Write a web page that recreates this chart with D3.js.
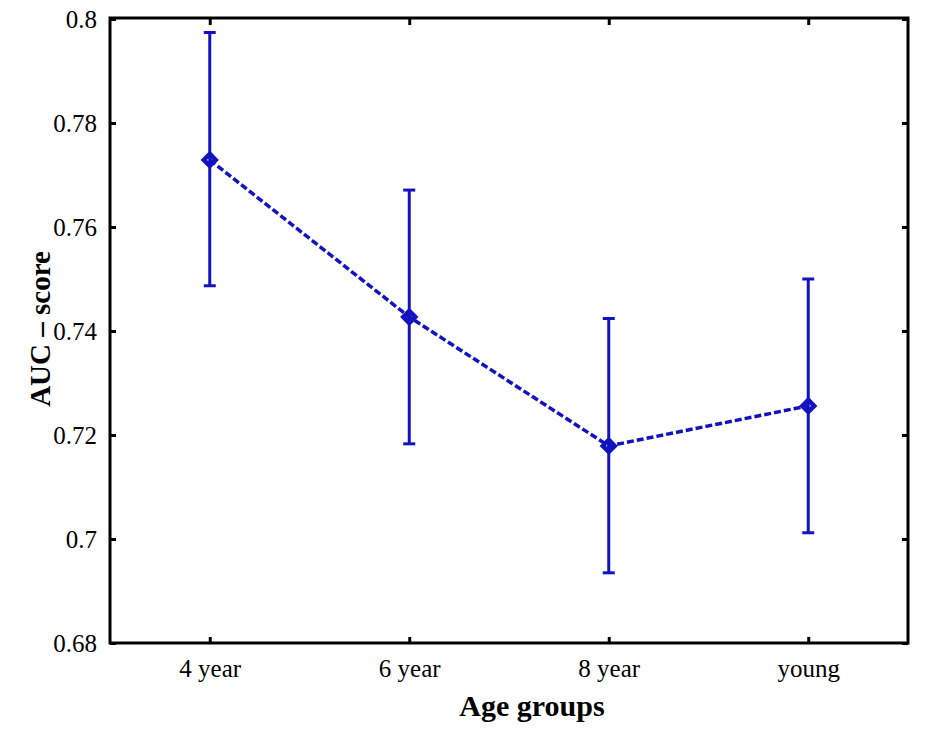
<!DOCTYPE html>
<html>
<head>
<meta charset="utf-8">
<script src="https://cdn.jsdelivr.net/npm/d3@7"></script>
<style>
  body{margin:0;background:#fff;}
  svg text{font-family:"Liberation Serif","Times New Roman",serif;fill:#000;}
</style>
</head>
<body>
<div id="chart"></div>
<script>
const groups = ['4 year','6 year','8 year','young'];
const means  = [0.7729, 0.7427, 0.7179, 0.7256];
const upper  = [0.7974, 0.7671, 0.7424, 0.7500];
const lower  = [0.7487, 0.7183, 0.6935, 0.7012];
const yTicks = [0.68, 0.7, 0.72, 0.74, 0.76, 0.78, 0.8];

const W=925, H=730;
const L=110, R=908, T=19, B=643;
const blue='#1212c0';

const svg=d3.select('#chart').append('svg').attr('width',W).attr('height',H);

const x=d3.scaleLinear().domain([0.5,4.5]).range([L,R]);
const y=d3.scaleLinear().domain([0.68,0.8]).range([B,T]);

const data=groups.map((g,i)=>({g,i:i+1,m:means[i],hi:upper[i],lo:lower[i]}));

// axes, ticks pointing inward
const fmt=d=>d3.format('~g')(d);
svg.append('g').attr('transform',`translate(${L},0)`)
  .call(d3.axisLeft(y).tickValues(yTicks).tickSize(-6).tickPadding(13).tickFormat(fmt));
svg.append('g').attr('transform',`translate(${R},0)`)
  .call(d3.axisRight(y).tickValues(yTicks).tickSize(-6).tickFormat(''));
svg.append('g').attr('transform',`translate(0,${B})`)
  .call(d3.axisBottom(x).tickValues([1,2,3,4]).tickSize(-6).tickPadding(16).tickFormat(d=>groups[d-1]));
svg.append('g').attr('transform',`translate(0,${T})`)
  .call(d3.axisTop(x).tickValues([1,2,3,4]).tickSize(-6).tickFormat(''));

svg.selectAll('.domain').remove();
svg.selectAll('.tick line').attr('stroke','#000').attr('stroke-width',3);
svg.selectAll('.tick text').attr('font-size',25).attr('font-family','Liberation Serif');

svg.append('rect').attr('x',L).attr('y',T-1).attr('width',R-L).attr('height',B-T+1)
  .attr('fill','none').attr('stroke','#000').attr('stroke-width',3);

// dashed line through means
svg.append('path').datum(data)
  .attr('d',d3.line().x(d=>x(d.i)).y(d=>y(d.m)))
  .attr('fill','none').attr('stroke',blue).attr('stroke-width',3.5)
  .attr('stroke-dasharray','7 3');

// error bars
const eb=svg.append('g').selectAll('g').data(data).join('g').attr('stroke',blue).attr('stroke-width',3);
eb.append('line').attr('x1',d=>x(d.i)).attr('x2',d=>x(d.i)).attr('y1',d=>y(d.hi)).attr('y2',d=>y(d.lo));
eb.append('line').attr('x1',d=>x(d.i)-6).attr('x2',d=>x(d.i)+6).attr('y1',d=>y(d.hi)).attr('y2',d=>y(d.hi));
eb.append('line').attr('x1',d=>x(d.i)-6).attr('x2',d=>x(d.i)+6).attr('y1',d=>y(d.lo)).attr('y2',d=>y(d.lo));

// diamond markers
svg.append('g').selectAll('path').data(data).join('path')
  .attr('transform',d=>`translate(${x(d.i)},${y(d.m)})`)
  .attr('d','M0,-6L6,0L0,6L-6,0Z')
  .attr('fill','none').attr('stroke',blue).attr('stroke-width',4.5);

// titles
svg.append('text').attr('x',532).attr('y',716).attr('text-anchor','middle')
  .attr('font-size',30).attr('font-weight','bold').text('Age groups');
svg.append('text').attr('transform',`translate(50,329) rotate(-90)`).attr('text-anchor','middle')
  .attr('font-size',29).attr('font-weight','bold').text('AUC – score');
</script>
</body>
</html>
